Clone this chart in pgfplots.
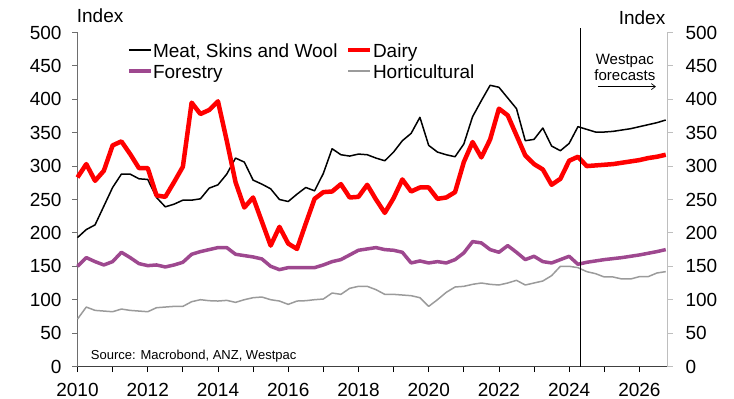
\documentclass[border=0pt]{standalone}
\usepackage{fontspec}
\setmainfont{Liberation Sans}
\usepackage{pgfplots}
\pgfplotsset{compat=1.18}
\usepackage{pgfplotstable}
\usetikzlibrary{arrows.meta}

\definecolor{dairyred}{RGB}{255,0,0}
\definecolor{forestry}{RGB}{158,72,143}
\definecolor{horti}{RGB}{155,155,155}
\definecolor{axisgray}{RGB}{110,110,110}
\definecolor{rightgray}{RGB}{190,190,190}

% Quarterly export price indices, history and forecasts
\pgfplotstableread{
t       meat  dairy forestry horti
2010.00 193   283   150      71
2010.25 205   303   163      89
2010.50 212   278   157      84
2010.75 240   293   152      83
2011.00 268   331   157      82
2011.25 288   337   171      86
2011.50 288   318   163      84
2011.75 281   297   154      83
2012.00 280   297   151      82
2012.25 253   256   152      88
2012.50 239   254   149      89
2012.75 243   276   152      90
2013.00 249   299   156      90
2013.25 249   395   168      97
2013.50 251   378   172      100
2013.75 267   384   175      98.5
2014.00 272   397   178      98
2014.25 288   338   178      99
2014.50 312   276   168      96
2014.75 306   238   166      100
2015.00 279   253   164      103
2015.25 273   217   161      104
2015.50 266   181   150      100
2015.75 250   209   145      98
2016.00 247   184   148      93
2016.25 258   176   148      98
2016.50 268   214   148      98.5
2016.75 263   251   148      100
2017.00 289   261   152      101
2017.25 326   262   157      110
2017.50 317   273   160      108
2017.75 315   253   167      117
2018.00 318   254   174      120
2018.25 317   272   176      120
2018.50 312   250   178      115
2018.75 308   230   175      108
2019.00 321   252   174      108
2019.25 338   280   171      107
2019.50 349   262   155      106
2019.75 373   268   158      103
2020.00 331   268   155      90
2020.25 321   251   157      100
2020.50 317   253   155      111
2020.75 314   261   160      119
2021.00 333   306   170      120
2021.25 374   336   187      123
2021.50 398   313   185      125
2021.75 421   340   175      123
2022.00 418   386   171      122
2022.25 402   376   181      125
2022.50 386   346   171      129
2022.75 338   316   160      122
2023.00 340   303   165      125
2023.25 357   295   157      128
2023.50 330   272   155      136
2023.75 323   281   160      150
2024.00 334   308   165      150
2024.25 359   314   153      148
2024.50 355   300   156      142
2024.75 351   301   158      139
2025.00 351   302   160      134
2025.25 352   303   161.5    134
2025.50 354   305   163      131
2025.75 356   307   165      131
2026.00 359   309   167      134.5
2026.25 362   312   169.5    134.5
2026.50 365   314   172      140
2026.75 369   317   175      142
}\exports

\begin{document}
\begin{tikzpicture}
\useasboundingbox (-77.5pt,-32.5pt) rectangle (656.5pt,366.5pt);
\begin{axis}[
  at={(0,0)}, anchor=south west, scale only axis,
  width=590pt, height=334pt,
  xmin=2010, xmax=2026.8, ymin=0, ymax=500,
  axis x line*=bottom, axis y line*=left,
  x axis line style={black!75, line width=0.8pt, -},
  y axis line style={axisgray, line width=0.8pt, -},
  xtick={2010,2012,...,2026}, minor xtick={2011,2013,...,2025},
  ytick={0,50,...,500},
  tick align=outside, major tick length=5.5pt, minor tick length=5.5pt,
  x tick style={black, line width=0.8pt},
  y tick style={axisgray, line width=0.8pt},
  xticklabel style={font=\fontsize{19}{21}\selectfont, inner sep=0pt, yshift=-11pt},
  yticklabel style={font=\fontsize{19}{21}\selectfont, xshift=-7pt},
  /pgf/number format/assume math mode=true,
  /pgf/number format/1000 sep={},
  clip=false,
  every axis plot/.append style={line join=round},
  legend columns=2,
  legend cell align=left,
  legend image code/.code={\draw[#1] (0pt,0.3em) -- (22pt,0.3em);},
  legend style={draw=none, fill=none, inner sep=0pt, outer sep=0pt,
    at={(rel axis cs:0.084,0.970)}, anchor=north west,
    font=\fontsize{19}{21}\selectfont,
    nodes={inner sep=0.5pt, text height=14pt, text depth=6pt},
    /tikz/every even column/.append style={column sep=8pt}},
]
\addplot[black, line width=1.5pt] table[x=t, y=meat] {\exports};
\addlegendentry{Meat, Skins and Wool}
\addplot[dairyred, line width=4.5pt] table[x=t, y=dairy] {\exports};
\addlegendentry{Dairy}
\addplot[forestry, line width=3.5pt] table[x=t, y=forestry] {\exports};
\addlegendentry{Forestry}
\addplot[horti, line width=1.5pt] table[x=t, y=horti] {\exports};
\addlegendentry{Horticultural}

% start of the forecast period
\draw[black, line width=0.8pt] (axis cs:2024.33,0) -- (axis cs:2024.33,506);
\node[anchor=base, inner sep=0pt, font=\fontsize{15}{17}\selectfont]
  at (axis cs:2025.585,452) {Westpac};
\node[anchor=base, inner sep=0pt, font=\fontsize{15}{17}\selectfont]
  at (axis cs:2025.585,427.4) {forecasts};
\draw[-{Straight Barb[length=4pt,width=6pt]}, line width=0.7pt]
  (axis cs:2024.82,419) -- (axis cs:2026.47,419);

\node[anchor=base west, inner sep=0pt, font=\fontsize{19}{21}\selectfont,
  xshift=-0.8pt, yshift=9.5pt] at (rel axis cs:0,1) {Index};
\node[anchor=base east, inner sep=0pt, font=\fontsize{19}{21}\selectfont,
  xshift=-2pt, yshift=7.5pt] at (rel axis cs:1,1) {Index};
\node[anchor=base west, inner sep=0pt, font=\fontsize{13}{15}\selectfont,
  xshift=13.2pt, yshift=6.8pt] at (rel axis cs:0,0) {Source: Macrobond, ANZ, Westpac};
\end{axis}

% right-hand scale
\begin{axis}[
  at={(0,0)}, anchor=south west, scale only axis,
  width=590pt, height=334pt,
  xmin=2010, xmax=2026.8, ymin=0, ymax=500,
  axis x line=none, axis y line*=right,
  y axis line style={rightgray, line width=0.8pt, -},
  ytick={0,50,...,500},
  tick align=outside, major tick length=5.5pt,
  y tick style={rightgray, line width=0.8pt},
  yticklabel style={font=\fontsize{19}{21}\selectfont, xshift=9pt},
  /pgf/number format/assume math mode=true,
]
\end{axis}
\end{tikzpicture}
\end{document}
